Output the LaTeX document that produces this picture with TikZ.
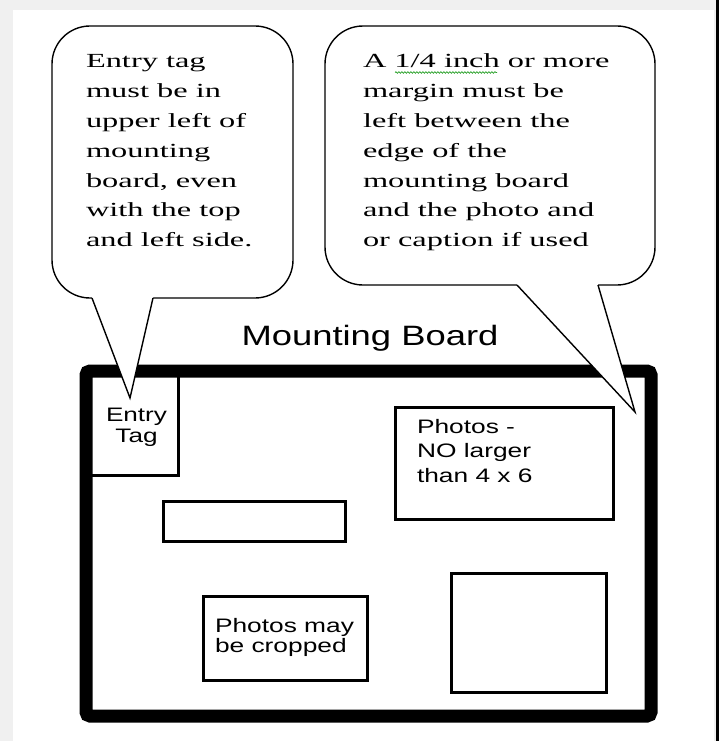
\documentclass[tikz,border=0pt]{standalone}
\usepackage{fontspec}
\setmainfont{Liberation Serif}
\setsansfont{Liberation Sans}
\usepackage{graphicx}
\usetikzlibrary{decorations.pathmorphing}
\newcommand\hstretch[2]{\scalebox{#1}[1]{#2}}
\definecolor{bggrey}{HTML}{F0F0F0}
\definecolor{spellgreen}{RGB}{40,160,40}
\begin{document}
\begin{tikzpicture}[x=1pt,y=-1pt,
  bubble/.style={draw=black, fill=white, line width=1.4pt},
  tailside/.style={draw=black, line width=1.4pt, line join=miter},
  boardframe/.style={draw=black, line width=13pt, rounded corners=4pt},
  photobox/.style={draw=black, line width=3pt},
  lbl/.style={inner sep=0pt, outer sep=0pt},
  sanslbl/.style={lbl, font=\sffamily\fontsize{19.5}{24.5}\selectfont},
  seriflbl/.style={lbl, anchor=base west, font=\fontsize{20}{29.8}\selectfont}]
\useasboundingbox (0,0) rectangle (719,741);
% page background
\fill[bggrey] (0,0) rectangle (719,741);
\fill[white] (13,10) rectangle (714,741);
\fill[black] (716,0) rectangle (719,741);

% mounting board
\draw[boardframe] (86,371) rectangle (651,716);
\node[lbl, anchor=base, font=\sffamily\fontsize{28}{34}\selectfont] (title) at (370,345) {\hstretch{1.3}{Mounting Board}};

% boxes on the board
\draw[photobox] (86,371) rectangle (178,475);
\node[lbl, anchor=base, font=\sffamily\fontsize{19.5}{21}\selectfont] (tag) at (136.5,421)
  {\hstretch{1.34}{\begin{tabular}[t]{@{}c@{}}Entry\\Tag\end{tabular}}};
\draw[photobox] (163,501) rectangle (345,541);
\draw[photobox] (395,407) rectangle (613,519);
\node[sanslbl, anchor=base west] (big) at (417,433)
  {\hstretch{1.35}{\begin{tabular}[t]{@{}l@{}}Photos -\\NO larger\\than 4 x 6\end{tabular}}};
\draw[photobox] (451,573) rectangle (606,692);
\draw[photobox] (203,596) rectangle (367,680);
\node[lbl, anchor=base west, font=\sffamily\fontsize{19.5}{20}\selectfont] (crop) at (215,632)
  {\hstretch{1.35}{\begin{tabular}[t]{@{}l@{}}Photos may\\be cropped\end{tabular}}};

% left speech bubble
\draw[bubble, rounded corners=38pt] (52,26) rectangle (293,298);
\fill[white] (92,296) -- (92,298) -- (130,398) -- (153,298) -- (153,296) -- cycle;
\draw[tailside] (92,298) -- (130,398) -- (153,298);
\node[seriflbl] (lefttext) at (86,68)
  {\hstretch{1.62}{\begin{tabular}[t]{@{}l@{}}Entry tag\\must be in\\upper left of\\mounting\\board, even\\with the top\\and left side.\end{tabular}}};

% right speech bubble
\draw[bubble, rounded corners=38pt] (325,26) rectangle (655,285);
\fill[white] (517,283) -- (517,285) -- (635,412) -- (598,285) -- (598,283) -- cycle;
\draw[tailside] (517,285) -- (635,412) -- (598,285);
\node[seriflbl] (righttext) at (363,68)
  {\hstretch{1.62}{\begin{tabular}[t]{@{}l@{}}A 1/4 inch or more\\margin must be\\left between the\\edge of the\\mounting board\\and the photo and\\or caption if used\end{tabular}}};
\draw[spellgreen, line width=0.7pt, decorate, decoration={snake, segment length=3pt, amplitude=0.8pt}] (395,72.5) -- (497,72.5);
\end{tikzpicture}
\end{document}
